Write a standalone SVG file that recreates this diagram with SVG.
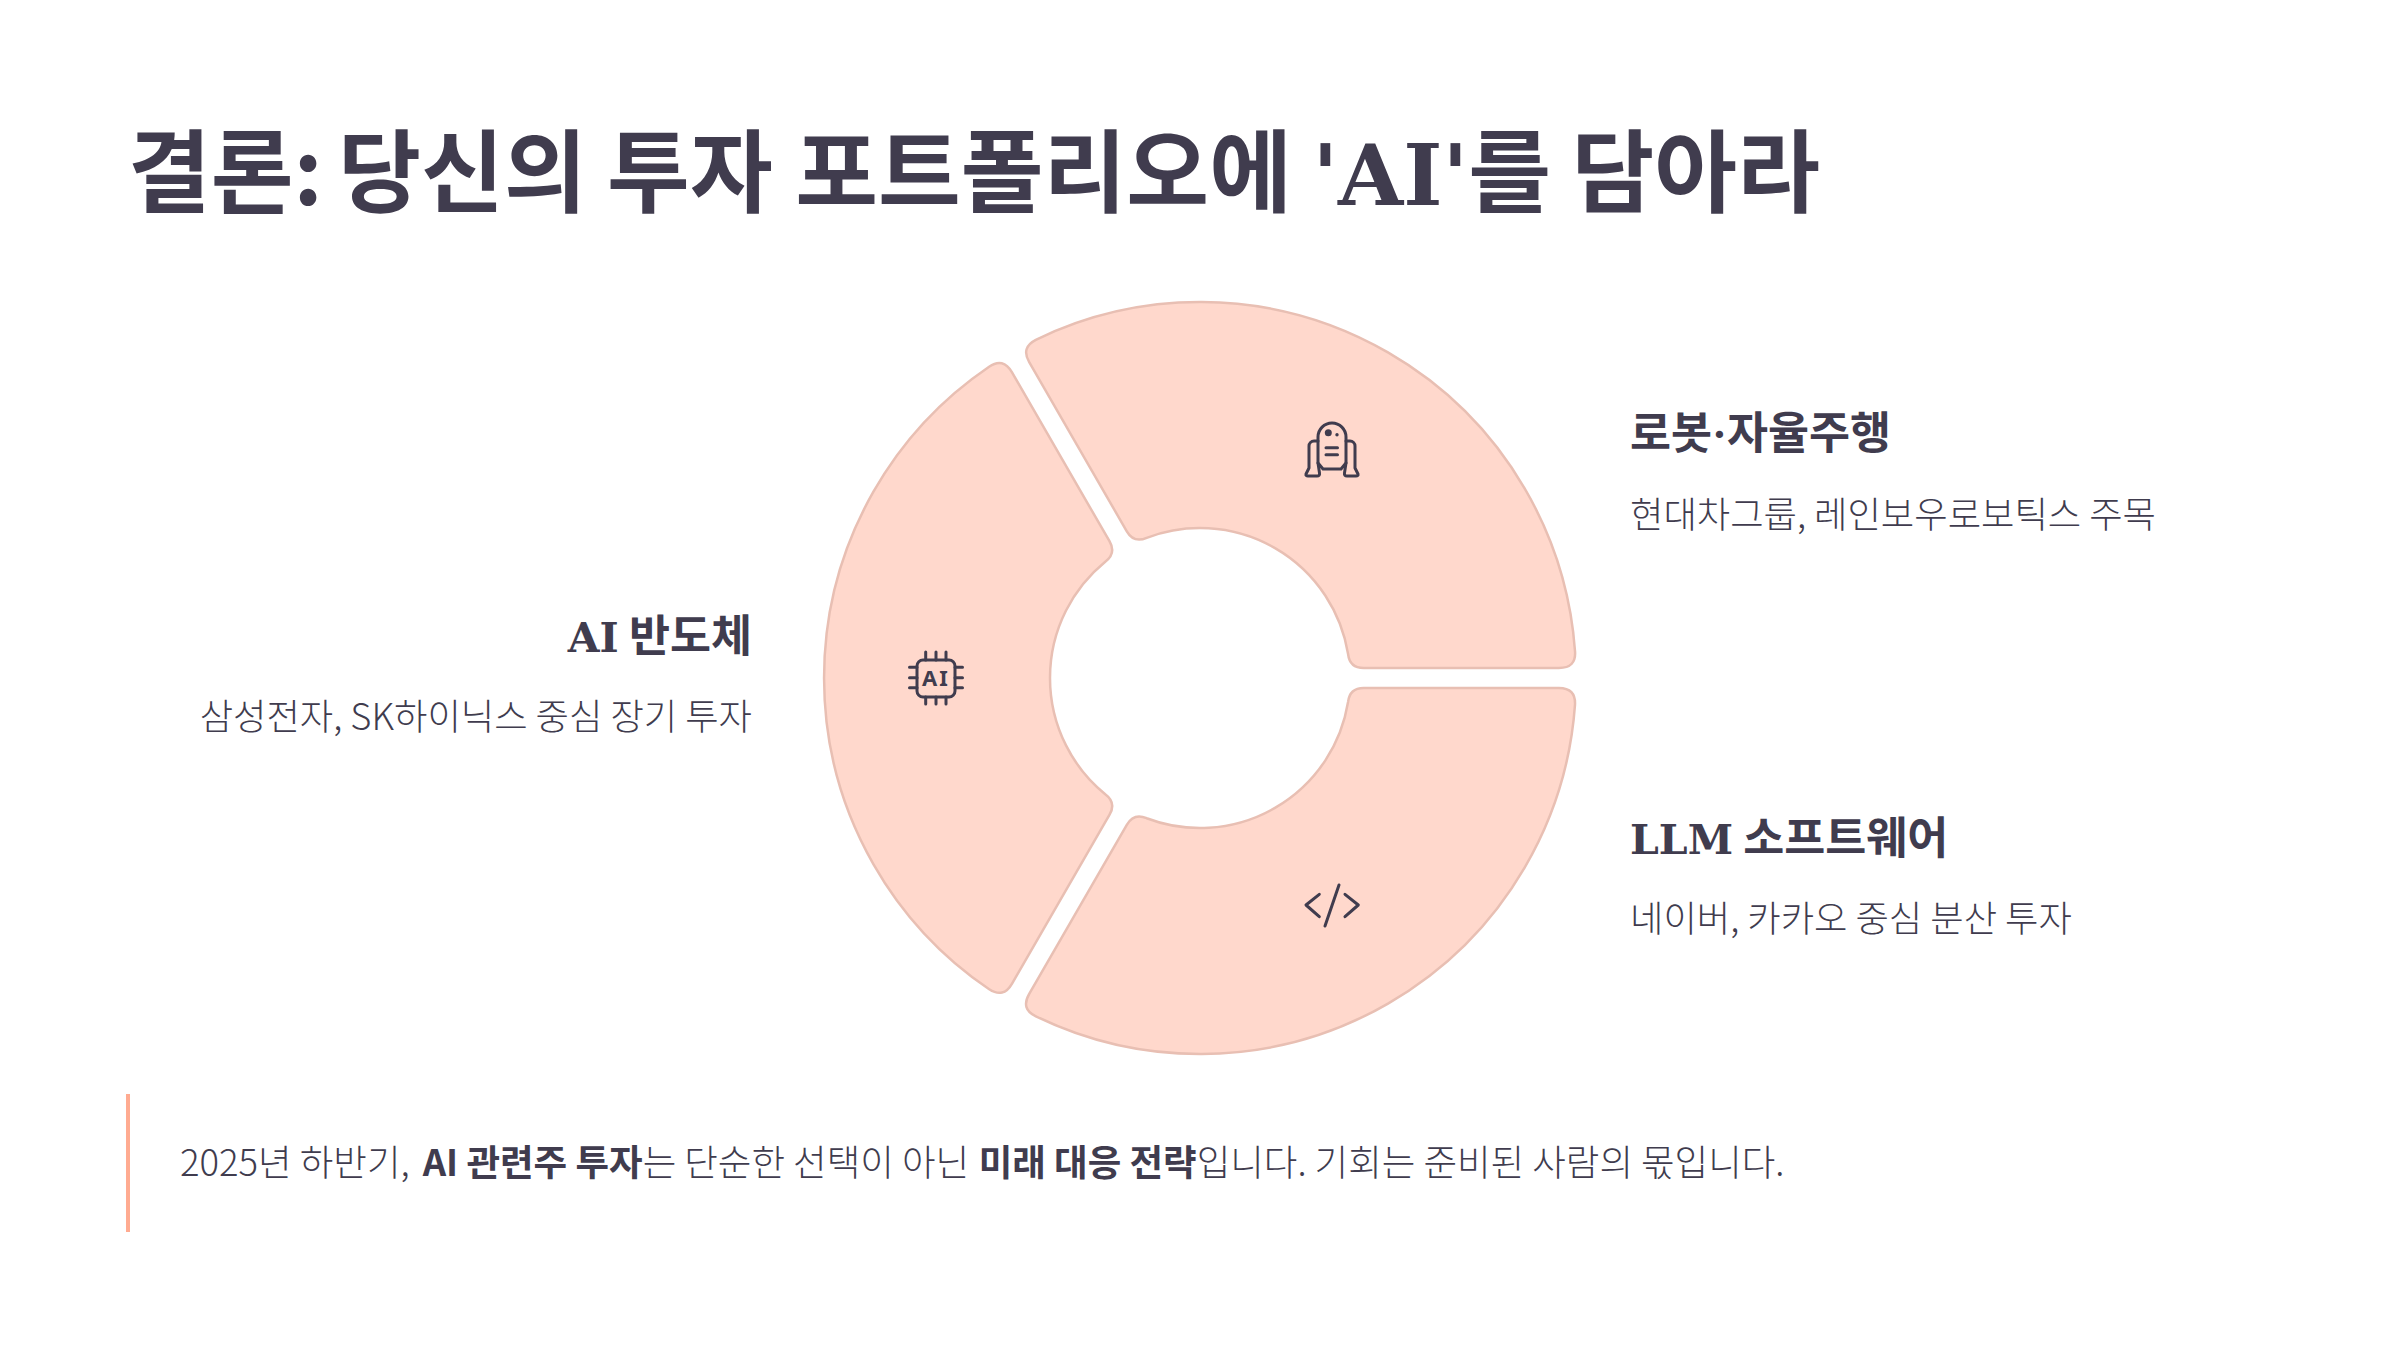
<svg xmlns="http://www.w3.org/2000/svg" width="2400" height="1350" viewBox="0 0 2400 1350">
<style>
text{fill:#403c4e;font-family:"Noto Sans CJK KR","Noto Sans",sans-serif}
.title{font-weight:700;font-size:90px}
.h{font-weight:700;font-size:44.6px}
.lat{font-family:"DejaVu Serif","Noto Sans CJK KR",serif;font-weight:700}
.dot{font-family:"Liberation Serif",serif;font-weight:700}
.s{font-size:36.3px;font-weight:300}
.f{font-size:36.5px;font-weight:300}
.f tspan{font-weight:700}
.seg{fill:#ffd8cc;stroke:#e8bfb3;stroke-width:2.5}
.ic{fill:none;stroke:#403c4e;stroke-width:3;stroke-linecap:round;stroke-linejoin:round}
</style>
<defs>
<path id="segment" class="seg" d="M1035.8 339.8A376 376 0 0 1 1575 651Q1576.5 668 1558.9 668L1363.7 668Q1349.7 668 1348.1 654.1A150 150 0 0 0 1146.7 537.8Q1133.8 543.4 1126.8 531.3L1029.2 362.2Q1020.7 347.5 1035.8 339.8Z"/>
</defs>
<rect width="2400" height="1350" fill="#fff"/>
<text id="title" class="title" x="128" y="205">결론: <tspan dx="-5">당신의</tspan> 투자 <tspan dx="2">포트폴리오에</tspan> <tspan class="lat" font-size="84">'AI'</tspan>를 담아라</text>
<g id="connectors"/>
<g id="node-robot">
<use href="#segment"/>
<g class="ic">
<path d="M1318 463V437a14 14 0 0 1 28 0V463L1341 469H1323Z"/>
<path d="M1318 441H1314a5 5 0 0 0-5 5V468L1306 474Q1305.5 476 1308 476H1317Q1320 476 1319.5 473L1318 463"/>
<path d="M1346 441H1350a5 5 0 0 1 5 5V468L1358 474Q1358.5 476 1356 476H1347Q1344 476 1344.5 473L1346 463"/>
<path d="M1326 447.7H1337.5M1326 454.7H1337.5"/>
</g>
<circle cx="1328.3" cy="432.7" r="3.5" fill="#403c4e"/>
<circle cx="1337" cy="434.7" r="1.7" fill="#403c4e"/>
<text class="h" x="1630" y="449">로봇<tspan class="dot">·</tspan>자율주행</text>
<text class="s" x="1630" y="528">현대차그룹, 레인보우로보틱스 주목</text>
</g>
<g id="node-llm">
<use href="#segment" transform="rotate(120 1200 678)"/>
<path class="ic" d="M1319.3 894.3L1306 905L1319.3 916.7M1345 894.3L1358.3 905L1345 916.7M1339 885L1325 926"/>
<text class="h" x="1630" y="854"><tspan class="lat" font-size="41">LLM</tspan> 소프트웨어</text>
<text class="s" x="1630" y="932">네이버, 카카오 중심 분산 투자</text>
</g>
<g id="node-chip">
<use href="#segment" transform="rotate(240 1200 678)"/>
<rect class="ic" x="917" y="660" width="38" height="37" rx="6"/>
<path class="ic" d="M925.7 652V660M936 652V660M946 652V660M925.7 697V704M936 697V704M946 697V704M909.5 667.3H917M909.5 677.7H917M909.5 687.7H917M955 667.3H962.5M955 677.7H962.5M955 687.7H962.5"/>
<text x="936" y="686" text-anchor="middle" style="font-family:'Noto Sans',sans-serif;font-size:22px;font-weight:700;letter-spacing:2px">AI</text>
<text class="h" x="752" y="652" text-anchor="end"><tspan class="lat" font-size="41">AI</tspan> 반도체</text>
<text class="s" x="752" y="730" text-anchor="end">삼성전자, SK하이닉스 중심 장기 투자</text>
</g>
<g id="callout">
<rect x="126" y="1094" width="4" height="138" fill="#ffab91"/>
<text class="f" x="180" y="1176">2025년 하반기, <tspan dx="5">AI 관련주 투자</tspan>는 단순한 선택이 아닌 <tspan dx="1.5">미래 대응 전략</tspan>입니다. 기회는 준비된 사람의 몫입니다.</text>
</g>
</svg>
